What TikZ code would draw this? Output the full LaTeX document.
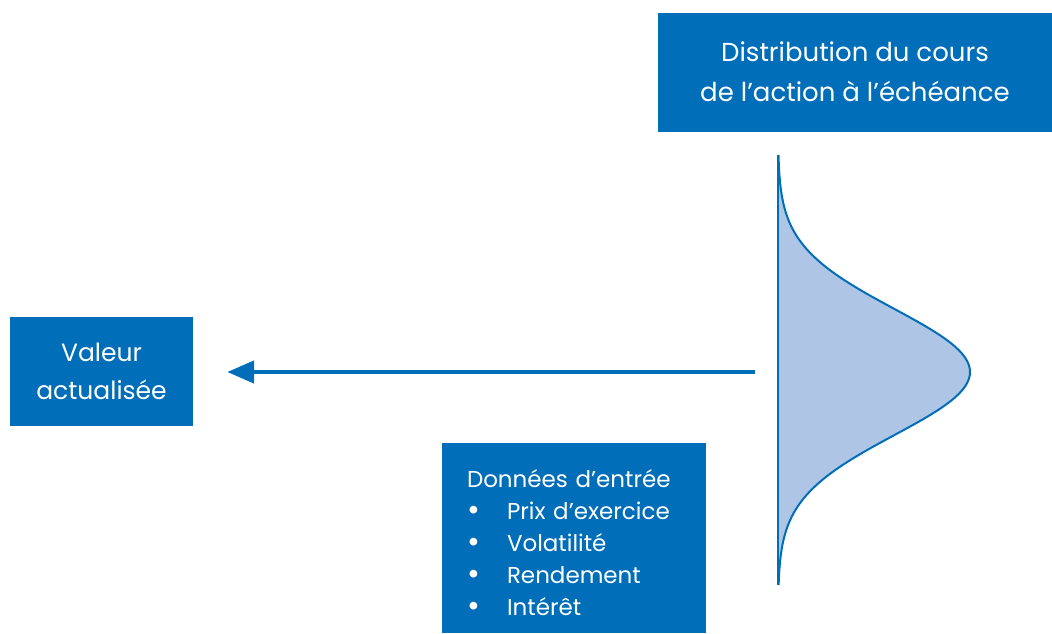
\documentclass[tikz,border=0pt]{standalone}
\usepackage{fontspec}
\setmainfont{Poppins}
\usepackage{tikz}
\usetikzlibrary{arrows.meta,positioning}
\definecolor{bleu}{HTML}{006EB9}
\definecolor{bleuclair}{HTML}{AFC5E6}
\newcommand{\puce}{\makebox[40pt][l]{\raisebox{-1pt}{\scalebox{1.35}{\textbullet}}}}
\tikzset{
	boite/.style={fill=bleu,text=white,inner sep=0pt,align=center},
	fleche/.style={draw=bleu,line width=4.5pt,-{Triangle[length=27pt,width=22pt]}}
}

\begin{document}
\begin{tikzpicture}[x=1pt,y=-1pt]
\useasboundingbox (0,0) rectangle (1052,633);
\node[boite,minimum width=394pt,minimum height=119pt,font=\fontsize{26}{40}\selectfont] (distrib) at (855,72) {Distribution du cours\\de l’action à l’échéance};
\node[boite,minimum width=183pt,minimum height=109pt,font=\fontsize{25}{38}\selectfont] (valeur) at (101.5,371) {Valeur\\actualisée};
\node[boite,minimum height=190pt,text width=214pt,inner xsep=25pt,align=left,font=\fontsize{23}{32}\selectfont] (donnees) at (574,538) {\rule{0pt}{28pt}Données d’entrée\\\puce Prix d’exercice\\\puce Volatilité\\\puce Rendement\\\puce Intérêt};
\coordinate (depart) at (755,372);
\draw[fleche,shorten >=34pt] (depart) -- (valeur.east |- depart);
\fill[bleuclair] plot[domain=155:585,samples=120,variable=\t] ({778+192*exp(-0.5*((\t-372)/63)^2)},\t) -- cycle;
\draw[bleu,line width=2pt] plot[domain=155:585,samples=120,variable=\t] ({778+192*exp(-0.5*((\t-372)/63)^2)},\t);
\draw[bleu,line width=2.5pt] (778,155) -- (778,585);
\end{tikzpicture}
\end{document}
